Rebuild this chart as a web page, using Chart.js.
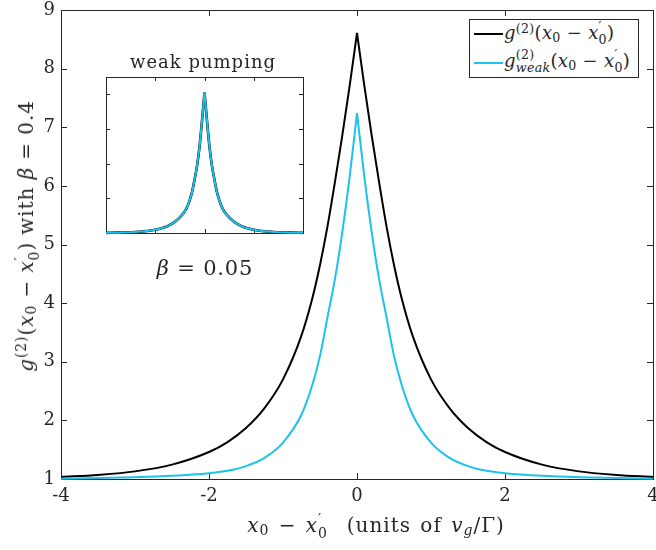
<!DOCTYPE html>
<html lang="en">
<head>
  <meta charset="UTF-8">
  <title>g2 correlation</title>
  <script src="https://cdn.jsdelivr.net/npm/chart.js"></script>
  <style>
    body { margin: 0; background: #fff; }
    #wrap {
      position: relative; width: 656px; height: 550px; overflow: hidden;
      font-family: 'DejaVu Serif', 'Liberation Serif', serif; color: #262626;
    }
    canvas { position: absolute; }
    #mainChart { left: 0; top: 0; }
    #insetChart { left: 100px; top: 70px; }
    .lbl { position: absolute; white-space: nowrap; line-height: 1; transform: translate(-50%, -50%); }
    .rot { transform: translate(-50%, -50%) rotate(-90deg); }
    .m { font-style: italic; }
    .ss { display: inline-flex; flex-direction: column; vertical-align: middle; font-size: 0.7em; line-height: 1; }
    .sup { font-size: 0.7em; vertical-align: 0.45em; line-height: 0; }
    .sub { font-size: 0.7em; vertical-align: -0.25em; line-height: 0; }

    /* legend box */
    #legend {
      position: absolute; left: 469px; top: 19px; width: 170px; height: 59px;
      border: 1px solid #262626; background: #fff; box-sizing: border-box;
    }
    .key { position: absolute; left: 4px; width: 29px; height: 2px; }
    .ltxt { position: absolute; left: 34px; font-size: 18px; letter-spacing: 0.3px; white-space: nowrap; line-height: 1; transform: translateY(-50%); }
  </style>
</head>

<body>
  <div id="wrap">
    <canvas id="mainChart" width="656" height="550"></canvas>
    <canvas id="insetChart" width="210" height="170"></canvas>

    <!-- axis titles -->
    <div class="lbl rot" style="left:27px; top:236px; font-size:20px; letter-spacing:0.9px;">
      <span class="m">g</span><span class="sup">(2)</span>(<span class="m">x</span><span class="sub">0</span> − <span class="m">x</span><span class="ss"><span>′</span><span>0</span></span>) with <span class="m">β</span> = 0.4
    </div>
    <div class="lbl" style="left:376px; top:526px; font-size:20px; letter-spacing:1px; word-spacing:2px;">
      <span class="m">x</span><span class="sub">0</span> − <span class="m">x</span><span class="ss"><span>′</span><span>0</span></span>&nbsp;&nbsp;(units of <span class="m">v</span><span class="sub m">g</span>/Γ)
    </div>

    <!-- inset labels -->
    <div class="lbl" style="left:203px; top:62px; font-size:18px; letter-spacing:1px;">weak pumping</div>
    <div class="lbl" style="left:205px; top:268px; font-size:21px; letter-spacing:0.8px;"><span class="m">β</span> = 0.05</div>

    <!-- legend -->
    <div id="legend">
      <div class="key" style="top:13px; background:#000;"></div>
      <div class="ltxt" style="top:14px;">
        <span class="m">g</span><span class="sup">(2)</span>(<span class="m">x</span><span class="sub">0</span> − <span class="m">x</span><span class="ss"><span>′</span><span>0</span></span>)
      </div>
      <div class="key" style="top:42px; background:#1BC2EC;"></div>
      <div class="ltxt" style="top:42px;">
        <span class="m">g</span><span class="ss"><span>(2)</span><span class="m">weak</span></span>(<span class="m">x</span><span class="sub">0</span> − <span class="m">x</span><span class="ss"><span>′</span><span>0</span></span>)
      </div>
    </div>
  </div>

  <script>
    // separation x0 - x0' (units of v_g / Gamma)
    const xs = [-4, -3.5, -3, -2.5, -2, -1.75, -1.5, -1.25, -1, -0.75, -0.6, -0.5, -0.4, -0.3, -0.2, -0.1, 0,
      0.1, 0.2, 0.3, 0.4, 0.5, 0.6, 0.75, 1, 1.25, 1.5, 1.75, 2, 2.5, 3, 3.5, 4];

    // main panel, beta = 0.4
    const gFull = [1.035, 1.07, 1.13, 1.245, 1.46, 1.63, 1.87, 2.21, 2.7, 3.45, 4.1, 4.65, 5.3, 6.05, 6.85, 7.7, 8.61,
      7.7, 6.85, 6.05, 5.3, 4.65, 4.1, 3.45, 2.7, 2.21, 1.87, 1.63, 1.46, 1.245, 1.13, 1.07, 1.035];
    const gWeak = [1.005, 1.015, 1.03, 1.055, 1.1, 1.14, 1.22, 1.36, 1.62, 2.1, 2.62, 3.1, 3.75, 4.4, 5.2, 6.15, 7.24,
      6.15, 5.2, 4.4, 3.75, 3.1, 2.62, 2.1, 1.62, 1.36, 1.22, 1.14, 1.1, 1.055, 1.03, 1.015, 1.005];

    // inset, beta = 0.05 (both curves lie on top of each other)
    const insetFull = [1.004, 1.01, 1.022, 1.045, 1.095, 1.135, 1.2, 1.3, 1.45, 1.68, 1.95, 2.2, 2.55, 2.95, 3.5, 4.25, 5.05,
      4.25, 3.5, 2.95, 2.55, 2.2, 1.95, 1.68, 1.45, 1.3, 1.2, 1.135, 1.095, 1.045, 1.022, 1.01, 1.004];
    const insetWeak = [1.004, 1.01, 1.022, 1.045, 1.095, 1.135, 1.2, 1.3, 1.45, 1.68, 1.95, 2.2, 2.55, 2.95, 3.5, 4.25, 5.05,
      4.25, 3.5, 2.95, 2.55, 2.2, 1.95, 1.68, 1.45, 1.3, 1.2, 1.135, 1.095, 1.045, 1.022, 1.01, 1.004];

    const xTickVals = [-4, -2, 0, 2, 4];
    const yTickVals = [1, 2, 3, 4, 5, 6, 7, 8, 9];
    const insetXTicks = [-2, 0, 2];
    const insetYTicks = [2, 3, 4, 5];

    const BLACK = '#000000';
    const CYAN = '#1BC2EC';
    const AXIS = '#262626';

    // split each curve at x = 0 so the cusp stays sharp
    function half(ys, side) {
      return xs.map((x, i) => ({ x: x, y: ys[i] }))
        .filter(p => side < 0 ? p.x <= 0 : p.x >= 0);
    }

    function lineSet(data, color) {
      return {
        data: data, borderColor: color, borderWidth: 2, pointRadius: 0,
        fill: false, cubicInterpolationMode: 'monotone', clip: 4
      };
    }

    // matlab style box with inward ticks on all four sides
    const boxTicks = {
      id: 'boxTicks',
      beforeDatasetsDraw(chart, args, opts) {
        const ctx = chart.ctx, a = chart.chartArea;
        const x = chart.scales.x, y = chart.scales.y;
        ctx.save();
        ctx.strokeStyle = AXIS;
        ctx.lineWidth = 1;
        ctx.beginPath();
        opts.xTicks.forEach(v => {
          const px = Math.round(x.getPixelForValue(v)) + 0.5;
          ctx.moveTo(px, a.bottom); ctx.lineTo(px, a.bottom - opts.len);
          ctx.moveTo(px, a.top); ctx.lineTo(px, a.top + opts.len);
        });
        opts.yTicks.forEach(v => {
          const py = Math.round(y.getPixelForValue(v)) + 0.5;
          ctx.moveTo(a.left, py); ctx.lineTo(a.left + opts.len, py);
          ctx.moveTo(a.right, py); ctx.lineTo(a.right - opts.len, py);
        });
        ctx.stroke();
        ctx.strokeRect(Math.round(a.left) + 0.5, Math.round(a.top) + 0.5,
          Math.round(a.right - a.left), Math.round(a.bottom - a.top));
        ctx.restore();
      }
    };

    const tickFont = { family: "'DejaVu Serif', 'Liberation Serif', serif", size: 18 };

    new Chart(document.getElementById('mainChart'), {
      type: 'line',
      data: {
        datasets: [
          lineSet(half(gWeak, -1), CYAN), lineSet(half(gWeak, 1), CYAN),
          lineSet(half(gFull, -1), BLACK), lineSet(half(gFull, 1), BLACK)
        ]
      },
      options: {
        responsive: false,
        animation: false,
        events: [],
        layout: { padding: { left: 0, right: 3, top: 10, bottom: 0 } },
        plugins: {
          legend: { display: false },
          tooltip: { enabled: false },
          boxTicks: { xTicks: xTickVals, yTicks: yTickVals, len: 6 }
        },
        scales: {
          x: {
            type: 'linear', min: -4, max: 4,
            grid: { display: false, drawTicks: false },
            border: { display: false },
            ticks: {
              stepSize: 2, padding: 7, color: AXIS, font: tickFont, maxRotation: 0,
              callback: v => xTickVals.includes(v) ? String(v) : ''
            },
            afterFit: s => { s.height = 71; s.paddingLeft = 0; s.paddingRight = 0; }
          },
          y: {
            type: 'linear', min: 1, max: 9,
            grid: { display: false, drawTicks: false },
            border: { display: false },
            ticks: { stepSize: 1, padding: 6, color: AXIS, font: tickFont },
            afterFit: s => { s.width = 61; s.paddingTop = 0; s.paddingBottom = 0; }
          }
        }
      },
      plugins: [boxTicks]
    });

    // inset (weak pumping)
    function insetSet(ys, side, color, width) {
      const d = lineSet(half(ys, side), color);
      d.borderWidth = width;
      return d;
    }

    new Chart(document.getElementById('insetChart'), {
      type: 'line',
      data: {
        datasets: [
          insetSet(insetWeak, -1, CYAN, 2), insetSet(insetWeak, 1, CYAN, 2),
          insetSet(insetFull, -1, BLACK, 2.6), insetSet(insetFull, 1, BLACK, 2.6)
        ]
      },
      options: {
        responsive: false,
        animation: false,
        events: [],
        layout: { padding: { left: 6, right: 7, top: 7, bottom: 7 } },
        plugins: {
          legend: { display: false },
          tooltip: { enabled: false },
          boxTicks: { xTicks: insetXTicks, yTicks: insetYTicks, len: 4 }
        },
        scales: {
          x: { type: 'linear', min: -4, max: 4, display: false },
          y: { type: 'linear', min: 1, max: 5.5, display: false }
        }
      },
      plugins: [boxTicks]
    });
  </script>
</body>

</html>
